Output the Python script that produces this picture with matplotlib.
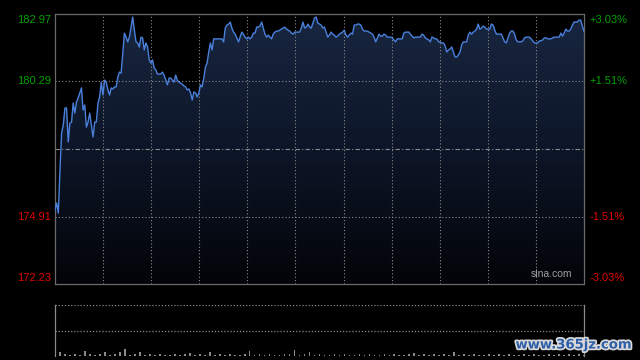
import numpy as np
import matplotlib
matplotlib.use('Agg')
import matplotlib.pyplot as plt
import matplotlib.patheffects as pe
from matplotlib.colors import LinearSegmentedColormap

# intraday price left to right
prices = [
    175.17, 175.45, 175.05, 176.76, 178.24, 178.55, 179.23, 179.23, 177.88, 178.63,
    178.67, 179.43, 179.03, 179.47, 179.63, 179.83, 180.03, 179.15, 179.35, 178.47,
    178.67, 179.03, 178.55, 178.08, 178.67, 178.67, 179.43, 179.67, 180.26, 179.75,
    180.34, 180.26, 179.95, 179.75, 180.03, 179.99, 180.07, 180.07, 180.46, 180.66,
    180.62, 181.42, 182.21, 182.05, 181.86, 182.05, 182.45, 182.85, 182.33, 181.86,
    181.82, 181.66, 182.05, 182.02, 181.54, 181.82, 181.66, 181.14, 181.02, 181.14,
    180.82, 180.74, 180.58, 180.58, 180.58, 180.66, 180.54, 180.34, 180.15, 180.42,
    180.42,
    180.34, 180.26, 180.54, 180.34, 180.26, 180.22, 180.18, 180.11, 180.07, 179.95,
    179.99, 179.83, 179.55, 179.87, 179.83, 179.67, 179.83, 180.15, 180.07, 180.42,
    180.86, 181.02, 181.46, 181.82, 181.54, 181.98, 181.98, 181.98, 181.98, 181.98,
    181.98, 181.86, 182.41, 182.53, 182.57, 182.65, 182.41, 182.25, 182.17, 182.02,
    181.86, 182.05, 182.25, 182.17, 182.05, 181.98, 182.05, 181.98, 182.05, 182.21,
    182.21, 182.45, 182.45, 182.49, 182.65, 182.41, 182.17, 182.05, 182.13, 182.05,
    181.98, 182.17, 182.25,
    182.29, 182.29, 182.33, 182.37, 182.41, 182.45, 182.37, 182.33, 182.29, 182.21,
    182.17, 182.25, 182.25, 182.25, 182.25, 182.41, 182.65, 182.41, 182.45, 182.57,
    182.45, 182.41, 182.61, 182.81, 182.85, 182.61, 182.57, 182.53, 182.41, 182.45,
    182.25, 182.05, 182.13, 182.25, 182.17, 182.13, 182.05, 182.09, 182.17, 182.21,
    182.25, 182.33, 182.13, 182.05, 182.13, 182.21, 182.17, 182.53, 182.53, 182.57,
    182.57, 182.53, 182.37, 182.29, 182.29, 182.29, 182.25, 182.21, 182.17, 182.05,
    181.86, 182.02, 182.17, 182.09, 182.09,
    182.17, 182.13, 182.05, 182.05, 182.05, 182.02, 181.94, 181.86, 181.98, 181.98,
    181.98, 181.98, 182.21, 182.25, 182.25, 182.25, 182.17, 182.09, 182.02, 182.05,
    182.05, 182.05, 182.05, 182.17, 182.13, 182.02, 181.98, 181.94, 181.86, 182.05,
    182.02, 181.98, 181.98, 181.86, 181.86, 181.82, 181.82, 181.70, 181.46, 181.54,
    181.58, 181.66, 181.46, 181.26, 181.26, 181.34, 181.46, 181.74, 181.86, 181.86,
    181.86, 182.13, 182.25, 182.17, 182.25, 182.29, 182.37, 182.57, 182.37, 182.41,
    182.49, 182.45, 182.37, 182.37, 182.37, 182.57,
    182.53, 182.33, 182.17, 182.17, 182.17, 182.17, 182.02, 181.86, 181.82, 182.02,
    182.21, 182.29, 182.29, 182.17, 181.94, 181.86, 181.86, 181.86, 181.90, 182.02,
    182.05, 182.05, 182.05, 181.98, 181.90, 181.82, 181.82, 181.82, 181.90, 181.90,
    181.94, 182.02, 182.02, 181.98, 181.98, 181.98, 182.02, 182.05, 182.05, 182.05,
    182.05, 182.21, 182.09, 182.21, 182.37, 182.29, 182.29, 182.37, 182.53, 182.65,
    182.65, 182.65, 182.73, 182.73, 182.49, 182.29,
]

# volume (relative units)
volume = [
    9, 4, 1.5, 1, 2, 1, 5, 1.5, 1, 2, 4, 1, 1.5, 4, 7, 1, 2, 4, 1, 1.5,
    1, 2, 1, 1, 1.5, 1, 2, 3, 1, 1.5, 1, 4, 1, 2, 1, 1.5, 1, 1, 2, 5,
    1, 1.5, 1, 2, 1, 1, 1.5, 2, 6, 1, 1.5, 4, 1, 2, 1, 1, 1.5, 1, 2, 1,
    1, 1.5, 1, 2, 1, 1, 1.5, 1, 2, 1, 1, 1.5, 3, 1, 2, 1, 1.5, 1, 2, 1,
    4, 1, 1.5, 1, 2, 1, 1, 1.5, 1, 2, 1, 1.5, 1, 1, 2, 1, 1.5, 1, 1, 2,
    1, 1.5, 1, 2, 1, 1.5, 1,
]

prev_close = 177.60
y_ticks = [182.97, 180.29, 174.91, 172.23]
pct_ticks = ['+3.03%', '+1.51%', '-1.51%', '-3.03%']

n = len(prices)
x = np.arange(n)

fig = plt.figure(figsize=(6.4, 3.6), dpi=100, facecolor='black')
ax = fig.add_axes((55 / 640, 1 - 284 / 360, 529 / 640, 270 / 360))
ax.set_facecolor('black')
ax.set_xlim(0, n - 1)
ax.set_ylim(y_ticks[-1], y_ticks[0])

# gradient fill under the line
cmap = LinearSegmentedColormap.from_list('g', ['#030408', '#0d1628', '#182640'])
grad = np.linspace(0, 1, 256).reshape(-1, 1)
im = ax.imshow(grad, cmap=cmap, aspect='auto', origin='lower',
               extent=(0, n - 1, y_ticks[-1], y_ticks[0]), zorder=1)
poly = ax.fill_between(x, prices, y_ticks[-1], color='none', lw=0)
im.set_clip_path(poly.get_paths()[0], transform=ax.transData)

# grid
for xv in np.linspace(0, n - 1, 12)[1:-1]:
    ax.axvline(xv, color='#8a8a8a', lw=0.8, ls=(0, (1, 2)), zorder=2)
for yv in [y_ticks[1], y_ticks[2]]:
    ax.axhline(yv, color='#8a8a8a', lw=0.8, ls=(0, (1, 2)), zorder=2)
ax.axhline(prev_close, color='#8a8a8a', lw=0.8, ls=(0, (4, 2, 1, 2)), zorder=2)

ax.plot(x, prices, color='#4a80dc', lw=1.0, zorder=3)

for s in ax.spines.values():
    s.set_color('#6a6a6a')
    s.set_linewidth(0.9)
ax.set_xticks([])
ax.set_yticks([])

font = 'Liberation Sans'
cols = ['#00a000', '#00a000', '#e00000', '#e00000']
offs = [-6, 0, 0, 6]
for v, p, c, o in zip(y_ticks, pct_ticks, cols, offs):
    ax.annotate(f'{v:.2f}', xy=(0, v), xycoords=('axes fraction', 'data'),
                xytext=(-4, o), textcoords='offset pixels', ha='right', va='center',
                color=c, fontsize=8, family=font)
    ax.annotate(p, xy=(1, v), xycoords=('axes fraction', 'data'),
                xytext=(5, o), textcoords='offset pixels', ha='left', va='center',
                color=c, fontsize=8, family=font)

ax.text(0.977, 0.018, 'sina.com', transform=ax.transAxes, ha='right', va='bottom',
        color='#a0a0a0', fontsize=7.5, family=font)

# volume panel
vax = fig.add_axes((55 / 640, 4 / 360, 529 / 640, 51 / 360))
vax.set_facecolor('black')
vx = np.linspace(0, n - 1, len(volume))
vax.bar(vx, volume, width=(n - 1) / len(volume) * 0.35, color='#8a8a8a', zorder=3)
vax.set_xlim(0, n - 1)
vax.set_ylim(0, max(volume) * 5.6)
vax.axhline(max(volume) * 5.6, color='#8a8a8a', lw=0.9, ls=(0, (1, 1.5)))
vax.axhline(max(volume) * 2.8, color='#8a8a8a', lw=0.9, ls=(0, (1, 1.5)))
for side in ['top', 'bottom']:
    vax.spines[side].set_visible(False)
for side in ['left', 'right']:
    vax.spines[side].set_color('#8a8a8a')
    vax.spines[side].set_linewidth(0.9)
vax.set_xticks([])
vax.set_yticks([])

fig.text(574 / 640, 1 - 345 / 360, 'www.365jz.com', ha='center', va='center',
         color='#2f5fa8', fontsize=9.5, fontweight='bold', family='DejaVu Sans',
         path_effects=[pe.withStroke(linewidth=2.5, foreground='#d8d8d8')])

fig.savefig('out.png', dpi=100, facecolor='black')
